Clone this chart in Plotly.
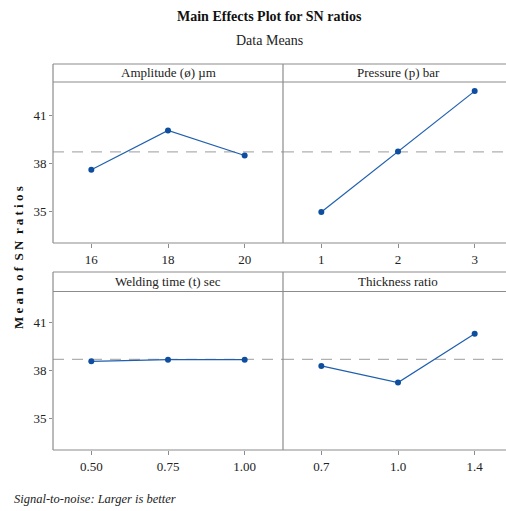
import plotly.graph_objects as go

W, H = 506, 511

# ---- data ----
panel_titles = ["Amplitude (ø) µm", "Pressure (p) bar", "Welding time (t) sec", "Thickness ratio"]
amp_levels = ["16", "18", "20"]
amp_sn = [37.58, 40.04, 38.47]
pres_levels = ["1", "2", "3"]
pres_sn = [34.94, 38.73, 42.50]
weld_levels = ["0.50", "0.75", "1.00"]
weld_sn = [38.58, 38.68, 38.68]
thick_levels = ["0.7", "1.0", "1.4"]
thick_sn = [38.29, 37.25, 40.29]
mean_sn = 38.70
y_ticks = [35, 38, 41]

levels = [amp_levels, pres_levels, weld_levels, thick_levels]
values = [amp_sn, pres_sn, weld_sn, thick_sn]

# ---- layout geometry (pixels) ----
x_left, x_mid, x_right = 53, 283, 506
cat_w = (x_mid - x_left) / 3.0
panels = [
    dict(top=64, strip=82, bottom=243),
    dict(top=272, strip=291.5, bottom=450),
]
y_ranges = [[33.0, 43.07], [33.05, 42.93]]

def px(x):
    return x / W

def py(y):
    return 1 - y / H

fig = go.Figure()
line_col = "#1f5fae"
mark_col = "#0d4f9e"
frame_col = "#8c8c8c"
font_serif = "Liberation Serif"

shapes = []
annotations = []
for i in range(4):
    row, col = divmod(i, 2)
    p = panels[row]
    xa = "x" if i == 0 else f"x{i+1}"
    ya = "y" if i == 0 else f"y{i+1}"
    xl = x_left if col == 0 else x_mid
    xr = x_mid if col == 0 else x_right
    xrange = [-0.5, -0.5 + (xr - xl) / cat_w]
    fig.add_trace(go.Scatter(
        x=[0, 1, 2], y=values[i], mode="lines+markers",
        line=dict(color=line_col, width=1.2),
        marker=dict(color=mark_col, size=6, symbol="circle"),
        xaxis=xa, yaxis=ya, showlegend=False, hoverinfo="skip"))
    xkey = "xaxis" if i == 0 else f"xaxis{i+1}"
    ykey = "yaxis" if i == 0 else f"yaxis{i+1}"
    fig.update_layout(**{
        xkey: dict(domain=[px(xl), min(px(xr), 1.0)], anchor=ya, range=xrange,
                   tickvals=[0, 1, 2], ticktext=levels[i], showgrid=False,
                   zeroline=False, showline=False, ticks="outside", ticklen=4,
                   tickcolor=frame_col, tickfont=dict(family=font_serif, size=13, color="#222")),
        ykey: dict(domain=[py(p["bottom"]), py(p["strip"])], anchor=xa, range=y_ranges[row],
                   tickvals=y_ticks, showgrid=False, zeroline=False, showline=False,
                   ticks="outside" if col == 0 else "", ticklen=3, tickcolor=frame_col,
                   showticklabels=(col == 0),
                   tickfont=dict(family=font_serif, size=13, color="#222")),
    })
    # dashed reference line
    shapes.append(dict(type="line", xref=xa, yref=ya, x0=xrange[0], x1=xrange[1],
                       y0=mean_sn, y1=mean_sn, layer="below",
                       line=dict(color="#b0b0b0", width=1.4, dash="11px,8px")))
    # strip title
    annotations.append(dict(text=panel_titles[i], xref="paper", yref="paper",
                            x=px((xl + (xl + 230)) / 2), y=py((p["top"] + p["strip"]) / 2),
                            showarrow=False, xanchor="center", yanchor="middle",
                            font=dict(family=font_serif, size=13, color="#222")))

for p in panels:
    # frame lines
    for (x0, y0, x1, y1) in [
        (x_left, p["top"], x_right, p["top"]),
        (x_left, p["strip"], x_right, p["strip"]),
        (x_left, p["bottom"], x_right, p["bottom"]),
        (x_left, p["top"], x_left, p["bottom"]),
        (x_mid, p["top"], x_mid, p["bottom"]),
    ]:
        shapes.append(dict(type="line", xref="paper", yref="paper",
                           x0=px(x0), x1=px(x1), y0=py(y0), y1=py(y1),
                           line=dict(color=frame_col, width=1.2)))

annotations += [
    dict(text="<b>Main Effects Plot for SN ratios</b>", xref="paper", yref="paper",
         x=px(269), y=py(17), showarrow=False, xanchor="center", yanchor="middle",
         font=dict(family=font_serif, size=14, color="#111")),
    dict(text="Data Means", xref="paper", yref="paper",
         x=px(269), y=py(40), showarrow=False, xanchor="center", yanchor="middle",
         font=dict(family=font_serif, size=14, color="#222")),
    dict(text="<b>M e a n  o f  S N  r a t i o s</b>", xref="paper", yref="paper",
         x=px(18), y=py(258), showarrow=False, textangle=-90, xanchor="center", yanchor="middle",
         font=dict(family=font_serif, size=13, color="#111")),
    dict(text="<i>Signal-to-noise: Larger is better</i>", xref="paper", yref="paper",
         x=px(12), y=py(499), showarrow=False, xanchor="left", yanchor="middle",
         font=dict(family=font_serif, size=12.5, color="#222")),
]

fig.update_layout(width=W, height=H, margin=dict(l=0, r=0, t=0, b=0),
                  paper_bgcolor="white", plot_bgcolor="white",
                  font=dict(family=font_serif),
                  shapes=shapes, annotations=annotations)

fig.write_html("out.html", config={"displayModeBar": False},
               post_script="document.body.style.margin='0';document.body.style.overflow='hidden';")
